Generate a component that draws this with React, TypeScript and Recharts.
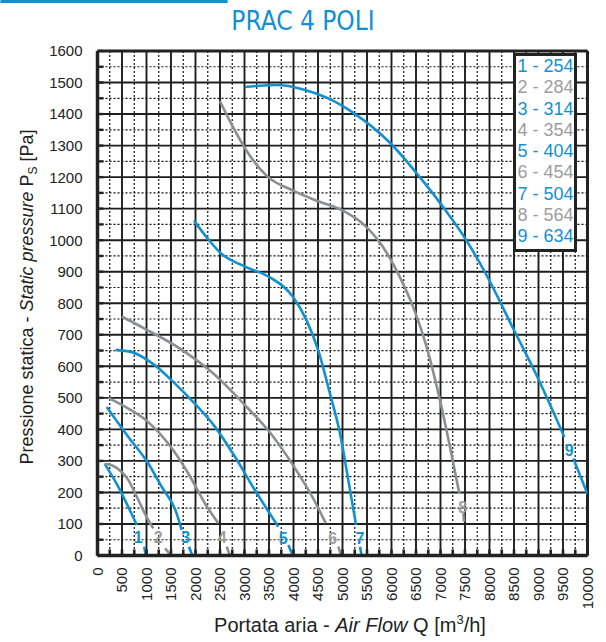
import React from "react";
import {
  LineChart,
  Line,
  XAxis,
  YAxis,
  CartesianGrid,
  ReferenceLine,
  ReferenceDot,
  Legend,
} from "recharts";

const BLUE = "#1190d2";
const GRAY = "#8a8f94";
const GRAY_TEXT = "#9d9d9d";
const INK = "#222222";

// fan curves: air flow Q [m3/h] / static pressure [Pa], null = gap for the number label
const curveNames = ["254", "284", "314", "354", "404", "454", "504", "564", "634"];

const q1 = [149, 425, 630, 800, 880, 955, 985];
const p1 = [290, 218, 154, 97, null, 28, 0];

const q2 = [140, 255, 357, 630, 833, 1037, 1139, 1260, 1378, 1500];
const p2 = [290, 288, 281, 239, 176, 112, 86, null, 23, 0];

const q3 = [187, 630, 1037, 1310, 1600, 1718, 1800, 1867, 1935];
const p3 = [471, 376, 292, 218, 140, 81, null, 28, 0];

const q4 = [221, 630, 1037, 1445, 1853, 2194, 2466, 2550, 2636, 2704];
const p4 = [500, 466, 423, 355, 260, 165, 102, null, 28, 0];

const q5 = [371, 697, 1173, 1582, 1922, 2398, 2806, 3214, 3690, 3790, 3895, 3985];
const p5 = [652, 645, 603, 545, 492, 408, 313, 207, 91, null, 33, 0];

const q6 = [493, 970, 1684, 2364, 3045, 3520, 3996, 4405, 4660, 4800, 4915, 4970];
const p6 = [758, 719, 656, 577, 471, 390, 285, 180, 102, null, 28, 0];

const q7 = [1969, 2228, 2500, 3045, 3520, 3996, 4269, 4507, 4745, 4949, 5119, 5276, 5320, 5357, 5391];
const p7 = [1062, 1009, 961, 914, 882, 819, 745, 650, 513, 387, 239, 97, null, 28, 0];

const q8 = [2500, 2772, 3045, 3453, 3996, 4473, 5017, 5425, 5833, 6173, 6445, 6718, 6990, 7194, 7384, 7440, 7466, 7480];
const p8 = [1441, 1357, 1283, 1204, 1157, 1125, 1093, 1051, 977, 882, 787, 661, 492, 344, 197, null, 134, 107];

const q9 = [3010, 3657, 4200, 4677, 5221, 5969, 6582, 7058, 7535, 7943, 8486, 8963, 9527, 9620, 9710, 10000];
const p9 = [1486, 1492, 1478, 1452, 1404, 1309, 1199, 1104, 998, 888, 719, 571, 376, null, 308, 195];

// curve number labels sitting in the gaps
const labelQ = [833, 1241, 1800, 2547, 3792, 4800, 5357, 7453, 9629];
const labelP = [58, 58, 58, 58, 54, 54, 54, 154, 334];

const xMajor = [0, 500, 1000, 1500, 2000, 2500, 3000, 3500, 4000, 4500, 5000, 5500, 6000, 6500, 7000, 7500, 8000, 8500, 9000, 9500, 10000];
const yMajor = [0, 100, 200, 300, 400, 500, 600, 700, 800, 900, 1000, 1100, 1200, 1300, 1400, 1500, 1600];
const xMinor = xMajor.slice(0, -1).map((v) => v + 250);
const yMinor = yMajor.slice(0, -1).map((v) => v + 50);
const xTicks = [...xMajor, ...xMinor].sort((a, b) => a - b);
const yTicks = [...yMajor, ...yMinor].sort((a, b) => a - b);

const seriesQ = [q1, q2, q3, q4, q5, q6, q7, q8, q9];
const seriesP = [p1, p2, p3, p4, p5, p6, p7, p8, p9];

const curves = curveNames.map((name, i) => ({
  id: `c${i + 1}`,
  label: `${i + 1} - ${name}`,
  color: i % 2 === 0 ? BLUE : GRAY,
  textColor: i % 2 === 0 ? BLUE : GRAY_TEXT,
  data: seriesQ[i].map((q, j) => ({ q, p: seriesP[i][j] })),
}));

function YTick(props: any) {
  const { x, y, payload } = props;
  const v = payload.value as number;
  return (
    <g>
      <line x1={x} x2={x + 6} y1={y} y2={y} stroke={INK} strokeWidth={2.4} />
      {v % 100 === 0 && (
        <text x={x - 15} y={y} dy="0.36em" textAnchor="end" fontSize={15} fill={INK}>
          {v}
        </text>
      )}
    </g>
  );
}

function XTick(props: any) {
  const { x, y, payload } = props;
  const v = payload.value as number;
  const ty = y + 12;
  return (
    <g>
      <line x1={x} x2={x} y1={y} y2={y - 6} stroke={INK} strokeWidth={2.6} />
      {v % 500 === 0 && (
        <text
          x={x}
          y={ty}
          dy="0.36em"
          textAnchor="end"
          fontSize={15}
          fill={INK}
          transform={`rotate(-90 ${x} ${ty})`}
        >
          {v}
        </text>
      )}
    </g>
  );
}

function CurveLegend() {
  return (
    <div
      style={{
        background: "#fff",
        border: `3px solid ${INK}`,
        width: 58,
        padding: "0 0 1px 0",
        fontFamily: "'Liberation Sans', Arial, sans-serif",
        fontSize: 18,
        lineHeight: "21.3px",
        textAlign: "right",
      }}
    >
      {curves.map((c) => (
        <div key={c.id} style={{ color: c.textColor, whiteSpace: "nowrap" }}>
          {c.label}
        </div>
      ))}
    </div>
  );
}

export default function App() {
  return (
    <div style={{ position: "absolute", left: 0, top: 0, width: 606, height: 642, background: "#fff" }}>
      <LineChart
        width={606}
        height={642}
        margin={{ top: 51, right: 18.5, left: 0, bottom: 0 }}
        style={{ fontFamily: "'Liberation Sans', Arial, sans-serif" }}
      >
        <CartesianGrid
          stroke="#111"
          strokeDasharray="2 2"
          strokeWidth={1.2}
          horizontalValues={yMinor}
          verticalValues={xMinor}
        />
        <CartesianGrid stroke="#1e1e1e" strokeWidth={1.9} horizontalValues={yMajor} verticalValues={xMajor} />
        <XAxis
          type="number"
          dataKey="q"
          domain={[0, 10000]}
          ticks={xTicks}
          interval={0}
          tick={<XTick />}
          tickLine={false}
          tickSize={0}
          tickMargin={0}
          height={86.5}
          axisLine={{ stroke: INK, strokeWidth: 3.5 }}
          allowDataOverflow
        />
        <YAxis
          type="number"
          domain={[0, 1600]}
          ticks={yTicks}
          interval={0}
          tick={<YTick />}
          tickLine={false}
          tickSize={0}
          tickMargin={0}
          width={97.5}
          axisLine={{ stroke: INK, strokeWidth: 3.5 }}
          allowDataOverflow
        />
        <ReferenceLine y={1600} stroke={INK} strokeWidth={3} />
        <ReferenceLine x={10000} stroke={INK} strokeWidth={3} />
        {curves.map((c) => (
          <Line
            key={c.id}
            data={c.data}
            dataKey="p"
            type="monotone"
            stroke={c.color}
            strokeWidth={2.6}
            dot={false}
            activeDot={false}
            connectNulls={false}
            isAnimationActive={false}
            legendType="none"
          />
        ))}
        {curves.map((c, i) => (
          <ReferenceDot
            key={`lbl-${c.id}`}
            x={labelQ[i]}
            y={labelP[i]}
            r={0}
            shape={(p: any) => (
              <text
                x={p.cx}
                y={p.cy}
                dy="0.36em"
                textAnchor="middle"
                fontSize={16}
                fontWeight="bold"
                fill={c.textColor}
              >
                {i + 1}
              </text>
            )}
          />
        ))}
        <Legend
          layout="vertical"
          align="center"
          verticalAlign="middle"
          content={<CurveLegend />}
          wrapperStyle={{ left: 512.5, top: 53, width: 64, height: "auto" }}
        />
      </LineChart>
      <svg
        width={606}
        height={642}
        style={{ position: "absolute", left: 0, top: 0, pointerEvents: "none" }}
      >
        <rect x={0} y={0} width={228} height={3} rx={1.5} fill={BLUE} />
        <text
          x={303}
          y={30}
          textAnchor="middle"
          fontSize={26}
          fill={BLUE}
          style={{ fontFamily: "'DejaVu Sans Condensed', 'DejaVu Sans', sans-serif", fontStretch: "condensed" }}
        >
          PRAC 4 POLI
        </text>
        <text
          transform="rotate(-90)"
          x={-297}
          y={33}
          textAnchor="middle"
          fontSize={18}
          fill={INK}
          style={{ fontFamily: "'Liberation Sans', Arial, sans-serif" }}
        >
          <tspan>Pressione statica - </tspan>
          <tspan fontStyle="italic">Static pressure</tspan>
          <tspan> P</tspan>
          <tspan fontSize={12} dy={4}>S</tspan>
          <tspan dy={-4}> [Pa]</tspan>
        </text>
        <text
          x={350}
          y={632}
          textAnchor="middle"
          fontSize={20}
          fill={INK}
          style={{ fontFamily: "'Liberation Sans', Arial, sans-serif" }}
        >
          <tspan>Portata aria - </tspan>
          <tspan fontStyle="italic">Air Flow</tspan>
          <tspan> Q [m</tspan>
          <tspan fontSize={13} dy={-8}>3</tspan>
          <tspan dy={8}>/h]</tspan>
        </text>
      </svg>
    </div>
  );
}
